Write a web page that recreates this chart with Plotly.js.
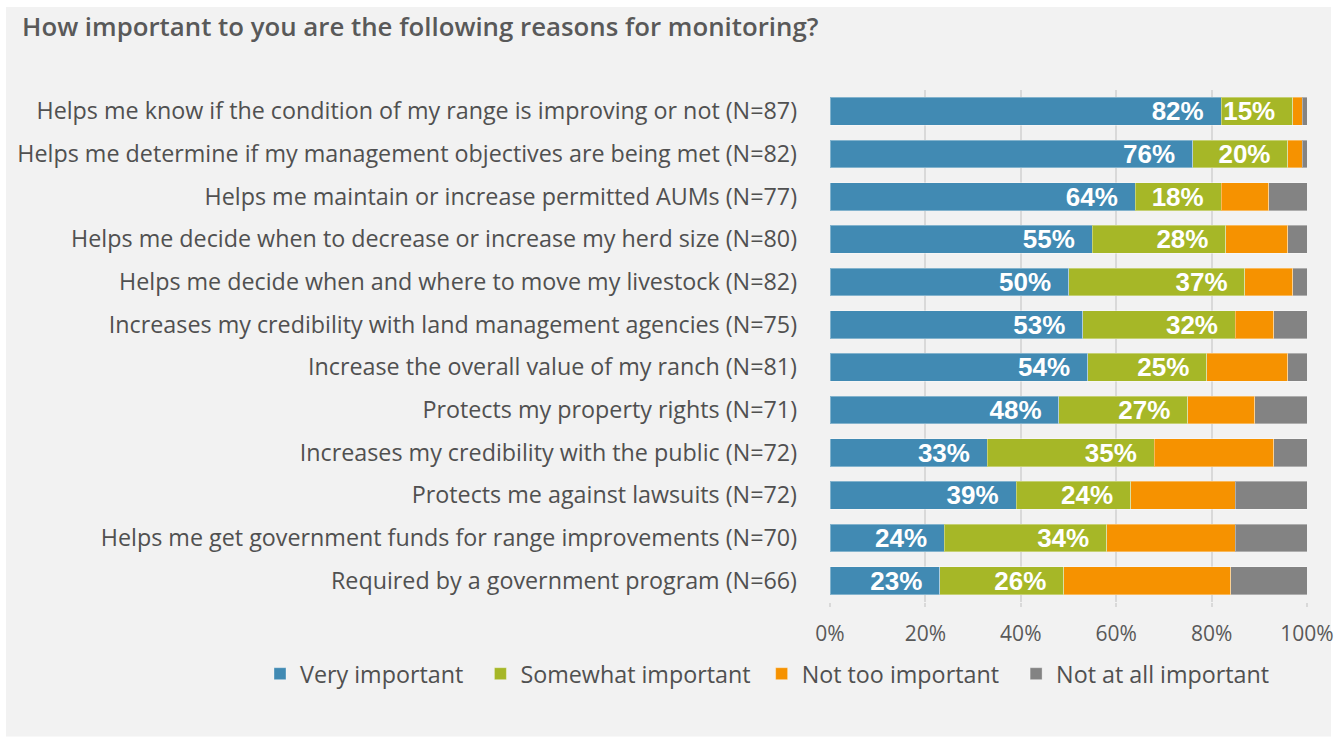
<!DOCTYPE html>
<html>
<head>
<meta charset="utf-8">
<script src="https://cdn.plot.ly/plotly-3.0.1.min.js"></script>
<style>
  html, body { margin: 0; padding: 0; background: #ffffff; width: 1343px; height: 738px; overflow: hidden; }
  #chart { position: absolute; left: 0; top: 0; width: 1343px; height: 738px; }
</style>
</head>
<body>
<div id="chart"></div>
<script>
// ---- Data ----
const categories = [
  "Helps me know if the condition of my range is improving or not (N=87)",
  "Helps me determine if my management objectives are being met (N=82)",
  "Helps me maintain or increase permitted AUMs (N=77)",
  "Helps me decide when to decrease or increase my herd size (N=80)",
  "Helps me decide when and where to move my livestock (N=82)",
  "Increases my credibility with land management agencies (N=75)",
  "Increase the overall value of my ranch (N=81)",
  "Protects my property rights (N=71)",
  "Increases my credibility with the public (N=72)",
  "Protects me against lawsuits (N=72)",
  "Helps me get government funds for range improvements (N=70)",
  "Required by a government program (N=66)"
];
const veryImportant     = [82, 76, 64, 55, 50, 53, 54, 48, 33, 39, 24, 23];
const somewhatImportant = [15, 20, 18, 28, 37, 32, 25, 27, 35, 24, 34, 26];
const notTooImportant   = [2, 3, 10, 13, 10, 8, 17, 14, 25, 22, 27, 35];
const notAtAllImportant = [1, 1, 8, 4, 3, 7, 4, 11, 7, 15, 15, 16];
const seriesNames = ["Very important", "Somewhat important", "Not too important", "Not at all important"];
const tickValues = [0, 20, 40, 60, 80, 100];
const tickLabels = ["0%", "20%", "40%", "60%", "80%", "100%"];

// ---- Styles / geometry (page pixels) ----
const colors = ["#418AB3", "#A6B727", "#F69200", "#838383"];
const W = 1343, H = 738;
const plotL = 830, plotR = 1307, plotT = 90, plotB = 602.4;
const plotW = plotR - plotL, plotH = plotB - plotT;
const labelPad = "\u00a0\u00a0";
const legendPad = ["\u00a0\u00a0", "\u00a0", "\u00a0\u00a0", ""];

function px2x(px) { return (px - plotL) / plotW; }
function px2y(py) { return (plotB - py) / plotH; }

function makeTrace(values, idx, withLabels) {
  const t = {
    type: "bar",
    orientation: "h",
    name: seriesNames[idx] + legendPad[idx],
    y: categories,
    x: values,
    marker: { color: colors[idx], line: { color: "rgba(255,255,255,0.35)", width: 1 } },
    hoverinfo: "skip"
  };
  if (withLabels) {
    t.text = values.map(v => v + "%" + labelPad);
    t.textposition = "inside";
    t.insidetextanchor = "end";
    t.textangle = 0;
    t.constraintext = "none";
    t.textfont = { family: "Liberation Sans, Arial, sans-serif", size: 26, color: "#ffffff", weight: 700 };
  } else {
    t.textposition = "none";
  }
  return t;
}

const data = [
  makeTrace(veryImportant, 0, true),
  makeTrace(somewhatImportant, 1, true),
  makeTrace(notTooImportant, 2, false),
  makeTrace(notAtAllImportant, 3, false)
];

const layout = {
  width: W,
  height: H,
  paper_bgcolor: "#ffffff",
  plot_bgcolor: "rgba(0,0,0,0)",
  barmode: "stack",
  bargap: 0.344,
  margin: { l: plotL, r: W - plotR, t: plotT, b: H - plotB, pad: 0 },
  shapes: [{
    type: "rect",
    xref: "paper", yref: "paper",
    x0: px2x(6), x1: px2x(1331),
    y0: px2y(737), y1: px2y(7),
    fillcolor: "#f2f2f2",
    line: { width: 0 },
    layer: "below"
  }],
  title: {
    text: "How important to you are the following reasons for monitoring?",
    font: { family: "Open Sans, sans-serif", size: 25.8, color: "#595959", weight: 600 },
    x: 22 / W,
    xref: "container",
    xanchor: "left",
    y: 1 - 27 / H,
    yref: "container",
    yanchor: "middle"
  },
  xaxis: {
    range: [0, 100],
    tickvals: tickValues,
    ticktext: tickLabels,
    showgrid: true,
    gridcolor: "#d9d9d9",
    gridwidth: 2,
    zeroline: false,
    showline: false,
    ticks: "outside",
    ticklen: 4,
    tickwidth: 2,
    tickcolor: "#d9d9d9",
    ticklabelstandoff: 9,
    tickfont: { family: "Open Sans, sans-serif", size: 21, color: "#595959" },
    fixedrange: true
  },
  yaxis: {
    autorange: "reversed",
    type: "category",
    showgrid: false,
    zeroline: false,
    showline: false,
    ticks: "",
    ticklabelstandoff: 32,
    tickfont: { family: "Open Sans, sans-serif", size: 23.3, color: "#505050" },
    fixedrange: true
  },
  showlegend: true,
  legend: {
    orientation: "h",
    xref: "paper",
    yref: "paper",
    x: px2x(260),
    xanchor: "left",
    y: px2y(674.5),
    yanchor: "middle",
    font: { family: "Open Sans, sans-serif", size: 23.3, color: "#505050" },
    bgcolor: "rgba(0,0,0,0)",
    borderwidth: 0,
    itemclick: false,
    itemdoubleclick: false,
    traceorder: "normal"
  },
  hovermode: false
};

Plotly.newPlot("chart", data, layout, { displayModeBar: false, staticPlot: true });
</script>
</body>
</html>
